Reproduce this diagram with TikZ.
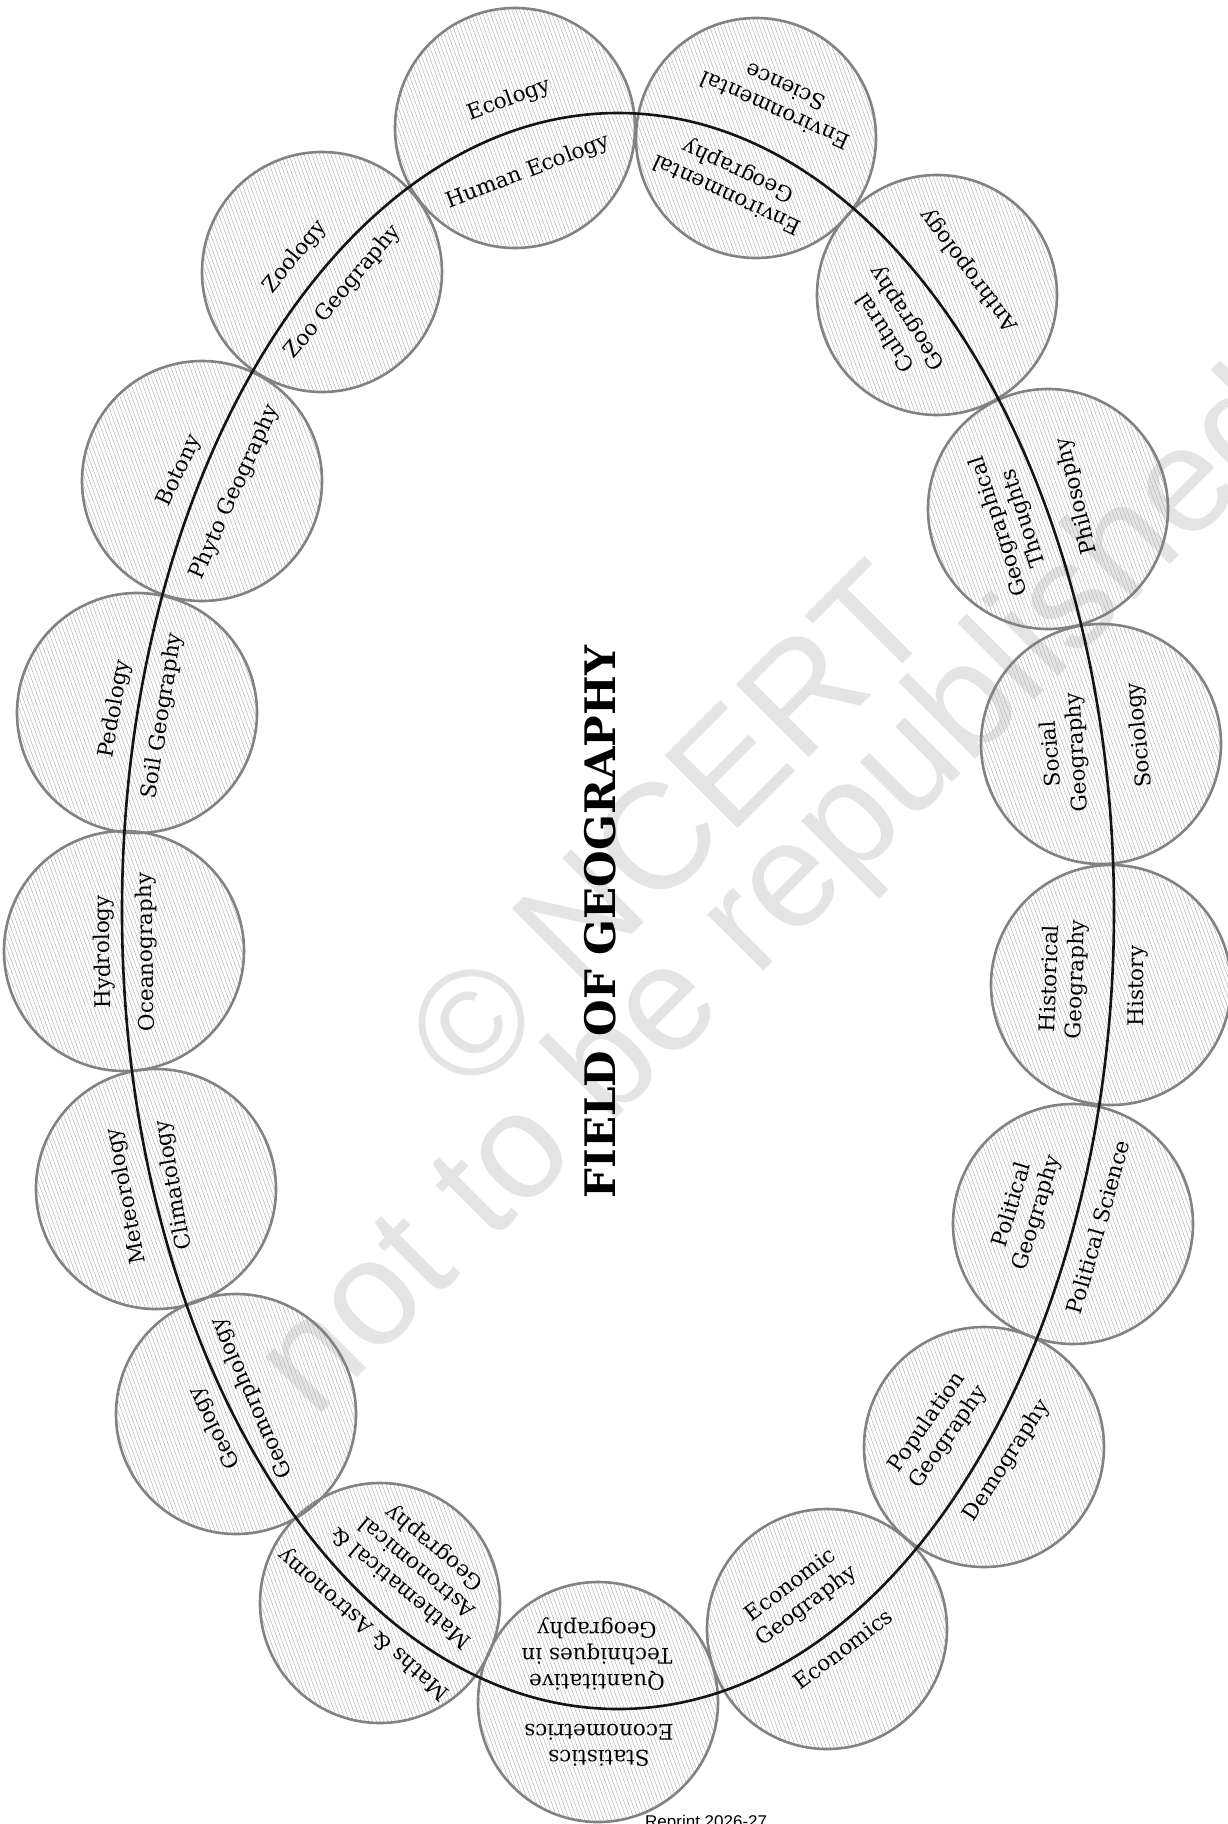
\documentclass[tikz,border=0pt]{standalone}
\usepackage{fontspec}
\setmainfont{DejaVu Serif}
\newfontfamily\wmfont{Liberation Sans}
\usetikzlibrary{patterns.meta}
\definecolor{ringgray}{HTML}{828282}
\definecolor{hatchgray}{HTML}{B4B4B4}
\definecolor{wmgray}{HTML}{E4E4E4}
\begin{document}
\begin{tikzpicture}[x=1pt,y=-1pt,
  disc/.style={circle, minimum size=240pt, inner sep=0pt, draw=ringgray, line width=2.6pt,
     pattern={Lines[angle=-70,distance=3.6pt,line width=0.5pt]}, pattern color=hatchgray},
  lbl/.style={font=\fontsize{21.5}{26}\selectfont, align=center, inner sep=0pt, text=black},
  wm/.style={font=\wmfont\fontsize{150}{170}\selectfont, text=wmgray, inner sep=0pt, rotate=45},
]
\useasboundingbox (0,0) rectangle (1228,1824);
% watermark
\node[wm] (wm1) at (668,826) {© NCERT};
\node[wm] (wm2) at (782,898) {not to be republished};
% circles
\node[disc] (c1) at (515,128) {};
\node[disc] (c2) at (756,138) {};
\node[disc] (c3) at (937,295) {};
\node[disc] (c4) at (1048,509) {};
\node[disc] (c5) at (1101,744) {};
\node[disc] (c6) at (1111,985) {};
\node[disc] (c7) at (1073,1224) {};
\node[disc] (c8) at (984,1447) {};
\node[disc] (c9) at (827,1629) {};
\node[disc] (c10) at (598,1702) {};
\node[disc] (c11) at (380,1603) {};
\node[disc] (c12) at (236,1414) {};
\node[disc] (c13) at (156,1189) {};
\node[disc] (c14) at (124,951) {};
\node[disc] (c15) at (137,713) {};
\node[disc] (c16) at (202,481) {};
\node[disc] (c17) at (322,272) {};
% ring
\coordinate (ctr) at (618,911);
\draw[line width=2.6pt, black!92] (ctr) ellipse [x radius=496, y radius=798];
% labels
\node[lbl, rotate=20] (t1a) at (509,100) {Ecology};
\node[lbl, rotate=21] (t1b) at (528,172) {Human Ecology};
\node[lbl, rotate=156] (t2a) at (780,99) {Environmental\\Science};
\node[lbl, rotate=155] (t2b) at (733,182) {Environmental\\Geography};
\node[lbl, rotate=127] (t3a) at (969,270) {Anthropology};
\node[lbl, rotate=123] (t3b) at (897,325) {Cultural\\Geography};
\node[lbl, rotate=104] (t4a) at (1077,496) {Philosophy};
\node[lbl, rotate=108] (t4b) at (1012,522) {Geographical\\Thoughts};
\node[lbl, rotate=96] (t5a) at (1140,735) {Sociology};
\node[lbl, rotate=94] (t5b) at (1065,753) {Social\\Geography};
\node[lbl, rotate=90] (t6a) at (1138,986) {History};
\node[lbl, rotate=88] (t6b) at (1064,979) {Historical\\Geography};
\node[lbl, rotate=74] (t7a) at (1098,1227) {Political Science};
\node[lbl, rotate=73] (t7b) at (1025,1209) {Political\\Geography};
\node[lbl, rotate=57] (t8a) at (1007,1461) {Demography};
\node[lbl, rotate=55] (t8b) at (938,1430) {Population\\Geography};
\node[lbl, rotate=37] (t9a) at (843,1649) {Economics};
\node[lbl, rotate=37] (t9b) at (799,1596) {Economic\\Geography};
\node[lbl, rotate=180] (t10a) at (599,1745) {Statistics\\Econometrics};
\node[lbl, rotate=180] (t10b) at (597,1654) {Quantitative\\Techniques in\\Geography};
\node[lbl, rotate=139] (t11a) at (364,1624) {Maths \& Astronomy};
\node[lbl, rotate=140] (t11b) at (418,1567) {Mathematical \&\\Astronomical\\Geography};
\node[lbl, rotate=117] (t12a) at (215,1428) {Geology};
\node[lbl, rotate=114] (t12b) at (252,1398) {Geomorphology};
\node[lbl, rotate=101] (t13a) at (127,1196) {Meteorology};
\node[lbl, rotate=100] (t13b) at (174,1185) {Climatology};
\node[lbl, rotate=91] (t14a) at (104,952) {Hydrology};
\node[lbl, rotate=91] (t14b) at (147,952) {Oceanography};
\node[lbl, rotate=80] (t15a) at (115,709) {Pedology};
\node[lbl, rotate=81] (t15b) at (163,716) {Soil Geography};
\node[lbl, rotate=65] (t16a) at (180,471) {Botony};
\node[lbl, rotate=66] (t16b) at (235,492) {Phyto Geography};
\node[lbl, rotate=51] (t17a) at (295,257) {Zoology};
\node[lbl, rotate=50] (t17b) at (343,292) {Zoo Geography};
% title
\node[font=\fontsize{42}{48}\selectfont\bfseries, rotate=90, inner sep=0pt, text=black] (title) at (600,922) {FIELD OF GEOGRAPHY};
% footer
\node[font=\wmfont\fontsize{17}{20}\selectfont, anchor=base west, inner sep=0pt] (reprint) at (645,1827) {Reprint 2026-27};
\end{tikzpicture}
\end{document}
